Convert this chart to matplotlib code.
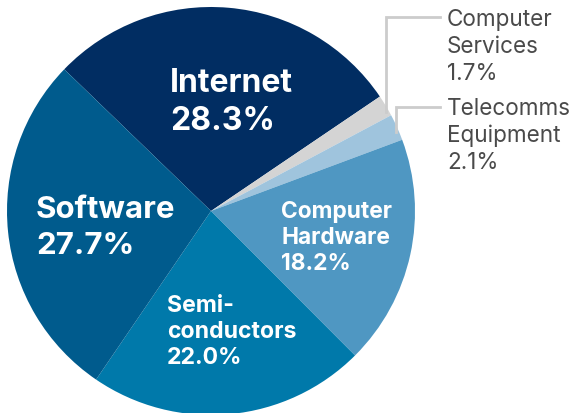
import matplotlib
matplotlib.use("Agg")
from matplotlib import pyplot as plt

# data
sectors = ["Internet", "Computer Services", "Telecomms Equipment",
           "Computer Hardware", "Semiconductors", "Software"]
shares = [28.3, 1.7, 2.1, 18.2, 22.0, 27.7]
colors = ["#012d62", "#d4d4d4", "#9fc4dd", "#4f97c2", "#0079aa", "#005b8d"]

W, H = 574, 414
fig = plt.figure(figsize=(W / 100, H / 100), dpi=100)
ax = fig.add_axes([0, 0, 1, 1])

cx, cy, r = 211, H - 212, 204
ax.pie(shares, colors=colors, startangle=136, counterclock=False,
       center=(cx, cy), radius=r, frame=True,
       wedgeprops=dict(linewidth=0))
ax.set_xlim(0, W)
ax.set_ylim(0, H)
ax.set_aspect("equal")
ax.axis("off")

fam = ["Inter", "DejaVu Sans"]

def inside(x, y, lines, size, gap):
    for i, s in enumerate(lines):
        ax.text(x, H - (y + i * gap), s, color="white", fontsize=size,
                fontweight="bold", family=fam, va="center", ha="left")

inside(170, 83, ["Internet", f"{shares[0]:.1f}%"], 23, 38)
inside(36, 210, ["Software", f"{shares[5]:.1f}%"], 22.5, 36)
inside(281, 212, ["Computer", "Hardware", f"{shares[3]:.1f}%"], 16.4, 26)
inside(167, 306, ["Semi-", "conductors", f"{shares[4]:.1f}%"], 16.6, 26)

# outside labels with leader lines
lc = "#cccccc"
ax.plot([386, 386, 440], [H - 113, H - 18, H - 18], color=lc, lw=2,
        solid_joinstyle="miter")
ax.plot([396, 396, 440], [H - 133, H - 108, H - 108], color=lc, lw=2,
        solid_joinstyle="miter")

def outside(y, lines):
    for i, s in enumerate(lines):
        ax.text(447, H - (y + i * 27), s, color="#4a4a4a", fontsize=16.2,
                family=fam, va="center", ha="left")

outside(20, ["Computer", "Services", f"{shares[1]:.1f}%"])
outside(109, ["Telecomms", "Equipment", f"{shares[2]:.1f}%"])

fig.savefig("out.png", dpi=100)
